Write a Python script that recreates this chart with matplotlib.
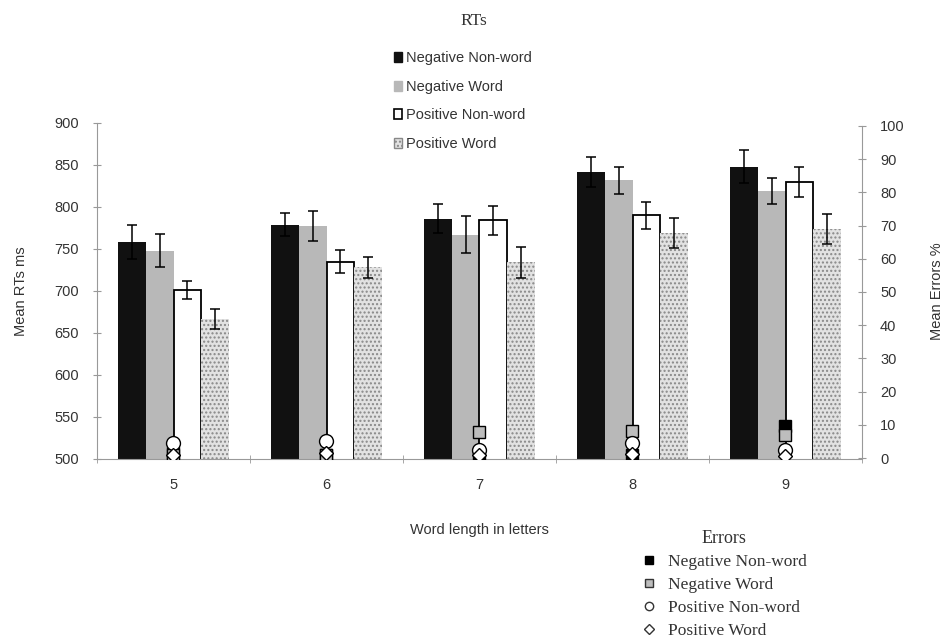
import matplotlib
matplotlib.use("Agg")
import matplotlib.pyplot as plt
import numpy as np
from matplotlib.patches import Patch
from matplotlib.lines import Line2D

# Word length categories
lengths = ["5", "6", "7", "8", "9"]

# Mean RTs (ms) and their error bars
rt_neg_nonword = [758, 779, 786, 842, 848]
rt_neg_word = [748, 777, 767, 832, 819]
rt_pos_nonword = [701, 735, 784, 790, 830]
rt_pos_word = [667, 728, 734, 769, 774]
rt_err_neg_nonword = [20, 14, 17, 18, 20]
rt_err_neg_word = [20, 18, 22, 16, 15]
rt_err_pos_nonword = [11, 14, 17, 16, 18]
rt_err_pos_word = [12, 12, 18, 18, 18]

# Mean errors (%)
err_neg_nonword = [1.5, 1.0, 0.3, 1.0, 9.5]
err_neg_word = [1.0, 1.0, 7.8, 8.0, 7.0]
err_pos_nonword = [4.5, 5.0, 2.5, 4.5, 2.5]
err_pos_word = [1.0, 1.5, 1.0, 1.2, 0.5]

plt.rcParams["font.family"] = ["Liberation Sans", "DejaVu Sans"]
SERIF = ["Liberation Serif", "DejaVu Serif"]
TXT = "#333333"
AX = "#999999"

fig = plt.figure(figsize=(9.48, 6.41), dpi=100)
ax = fig.add_axes([97 / 948, 182 / 641, 765 / 948, 336 / 641])

x = np.arange(len(lengths))
w = 0.18
ekw = dict(ecolor="black", elinewidth=1.1, capsize=3.5, capthick=1.1)

ax.bar(x - 1.5 * w, rt_neg_nonword, w, color="#111111",
       yerr=rt_err_neg_nonword, error_kw=ekw, zorder=2)
ax.bar(x - 0.5 * w, rt_neg_word, w, color="#b8b8b8",
       yerr=rt_err_neg_word, error_kw=ekw, zorder=2)
ax.bar(x + 0.5 * w, rt_pos_nonword, w, color="white", edgecolor="black",
       linewidth=1.3, yerr=rt_err_pos_nonword, error_kw=ekw, zorder=2)
ax.bar(x + 1.5 * w, rt_pos_word, w, color="#e2e2e2", edgecolor="#888888",
       hatch="....", linewidth=0, yerr=rt_err_pos_word, error_kw=ekw, zorder=2)

ax.set_xlim(-0.5, len(lengths) - 0.5)
ax.set_ylim(500, 900)
ax.set_yticks(np.arange(500, 901, 50))
ax.set_xticks(x)
ax.set_xticklabels(lengths)
ax.set_xticks(np.arange(-0.5, len(lengths), 1.0), minor=True)
ax.tick_params(axis="x", which="major", length=0, pad=14, labelsize=10.5,
               labelcolor=TXT)
ax.tick_params(axis="x", which="minor", length=6, direction="inout", color=AX)
ax.tick_params(axis="y", length=6, direction="inout", color=AX,
               labelsize=10.5, labelcolor=TXT, pad=10)
for s in ("top", "right"):
    ax.spines[s].set_visible(False)
ax.spines["left"].set_color(AX)
ax.spines["bottom"].set_color(AX)
ax.set_ylabel("Mean RTs ms", fontsize=10.5, color=TXT, labelpad=19)
ax.set_xlabel("Word length in letters", fontsize=10.5, color=TXT, labelpad=22)

# Error rates on the secondary axis
ax2 = ax.twinx()
ax2.set_ylim(-0.3, 100.9)
ax2.set_yticks(np.arange(0, 101, 10))
ax2.spines["right"].set_bounds(0, 100)
for s in ("top", "left", "bottom"):
    ax2.spines[s].set_visible(False)
ax2.spines["right"].set_color(AX)
ax2.tick_params(axis="y", length=6, direction="inout", color=AX,
                labelsize=10.5, labelcolor=TXT, pad=10)
ax2.set_ylabel("Mean Errors %", fontsize=10.5, color=TXT, labelpad=18)

mk = dict(linestyle="none", markeredgecolor="black", markeredgewidth=1.0)
ax2.plot(x, err_neg_nonword, marker="s", markersize=9,
         markerfacecolor="black", zorder=3, **mk)
ax2.plot(x, err_neg_word, marker="s", markersize=9,
         markerfacecolor="#bdbdbd", zorder=4, **mk)
ax2.plot(x, err_pos_nonword, marker="o", markersize=10,
         markerfacecolor="white", zorder=5, **mk)
ax2.plot(x, err_pos_word, marker="D", markersize=7,
         markerfacecolor="white", zorder=6, **mk)

# Title and RT legend
fig.text(474 / 948, 1 - 21 / 641, "RTs", ha="center", va="center",
         fontsize=12.5, family=SERIF, color=TXT)
rt_handles = [
    Patch(facecolor="#111111", edgecolor="#111111"),
    Patch(facecolor="#b8b8b8", edgecolor="#b8b8b8"),
    Patch(facecolor="white", edgecolor="black", linewidth=1.2),
    Patch(facecolor="#e2e2e2", edgecolor="#888888", hatch="...."),
]
leg1 = fig.legend(rt_handles,
                  ["Negative Non-word", "Negative Word",
                   "Positive Non-word", "Positive Word"],
                  loc="upper left", bbox_to_anchor=(387 / 948, 1 - 44 / 641),
                  frameon=False, fontsize=10.5, handlelength=0.55,
                  handleheight=0.7, handletextpad=0.25, labelspacing=1.0,
                  borderpad=0, labelcolor=TXT)

# Error legend
err_handles = [
    Line2D([], [], marker="s", markersize=6, markerfacecolor="black",
           markeredgecolor="black", linestyle="none"),
    Line2D([], [], marker="s", markersize=6, markerfacecolor="#bdbdbd",
           markeredgecolor="#333333", linestyle="none"),
    Line2D([], [], marker="o", markersize=6, markerfacecolor="white",
           markeredgecolor="#333333", linestyle="none"),
    Line2D([], [], marker="D", markersize=5, markerfacecolor="white",
           markeredgecolor="#333333", linestyle="none"),
]
leg2 = fig.legend(err_handles,
                  ["Negative Non-word", "Negative Word",
                   "Positive Non-word", "Positive Word"],
                  loc="upper left", bbox_to_anchor=(632 / 948, 1 - 521 / 641),
                  frameon=False, handlelength=1.0, handletextpad=0.55,
                  labelspacing=0.4, borderpad=0, title="Errors",
                  prop={"family": SERIF, "size": 12.5},
                  title_fontproperties={"family": SERIF, "size": 13},
                  labelcolor=TXT)
leg2.get_title().set_color(TXT)

fig.savefig("out.png", dpi=100)
